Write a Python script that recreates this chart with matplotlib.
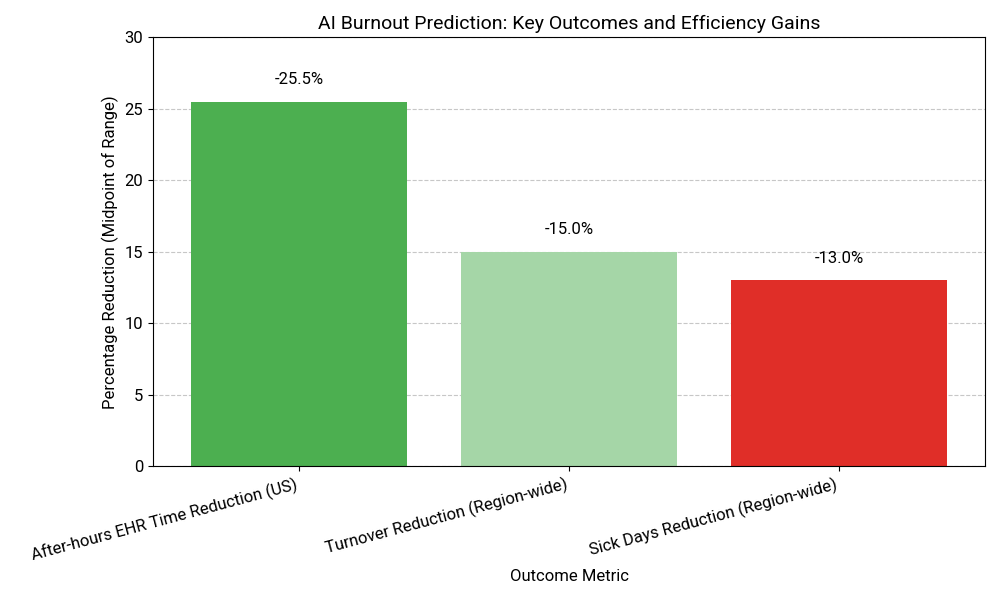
import matplotlib.pyplot as plt

categories = ['After-hours EHR Time Reduction (US)', 'Turnover Reduction (Region-wide)', 'Sick Days Reduction (Region-wide)']
values = [25.5, 15.0, 13.0]
colors = ['#4CAF50', '#A5D6A7', '#E02E28']

plt.rcParams['font.family'] = ['Roboto', 'DejaVu Sans']
fig, ax = plt.subplots(figsize=(10, 6), dpi=100)
bars = ax.bar(categories, values, color=colors, zorder=2)
for b, v in zip(bars, values):
    ax.text(b.get_x() + b.get_width() / 2, v + 1.0, f'-{v:.1f}%', ha='center', va='bottom', fontsize=12)
ax.set_ylim(0, 30)
ax.yaxis.grid(True, linestyle='--', alpha=0.7, zorder=0)
ax.set_title('AI Burnout Prediction: Key Outcomes and Efficiency Gains', fontsize=14)
ax.set_xlabel('Outcome Metric', fontsize=12)
ax.set_ylabel('Percentage Reduction (Midpoint of Range)', fontsize=12)
plt.xticks(rotation=15, ha='right', fontsize=12)
plt.yticks(fontsize=12)
plt.subplots_adjust(left=0.153, right=0.985, top=0.938, bottom=0.223)
plt.savefig('out.png')
